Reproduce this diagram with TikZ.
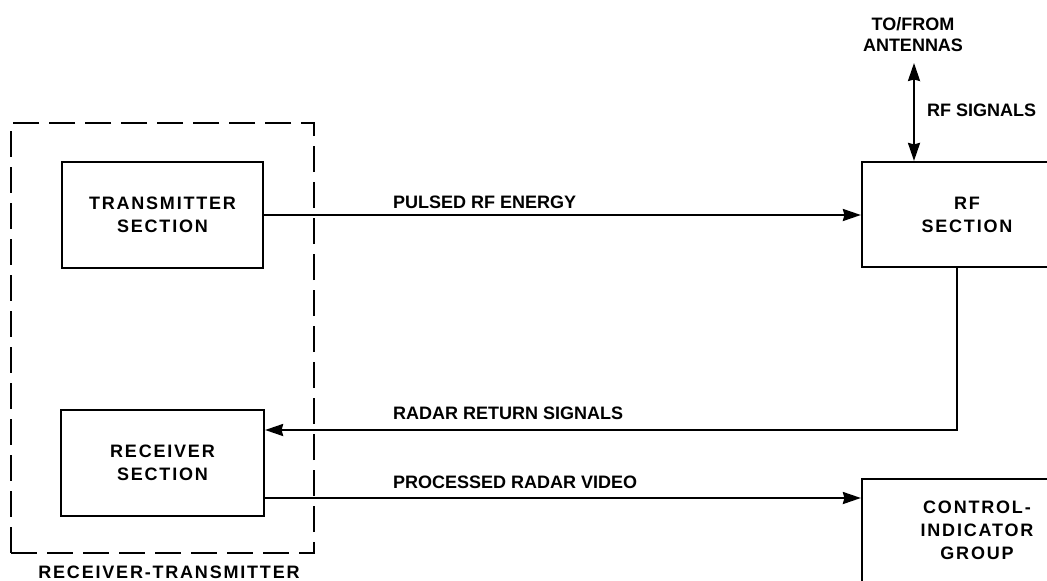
\documentclass[tikz,border=0pt]{standalone}
\usepackage{fontspec}
\setmainfont{Liberation Sans}
\newfontfamily\boxfont[LetterSpace=10]{Liberation Sans}
\usetikzlibrary{arrows.meta}
\begin{document}
\begin{tikzpicture}[x=1pt,y=-1pt,
  blk/.style={draw, line width=2.2pt, inner sep=0pt, align=center,
              font=\boxfont\bfseries\fontsize{18}{23}\selectfont},
  grp/.style={draw, line width=2.2pt, dash pattern=on 26pt off 10pt, inner sep=0pt},
  lbl/.style={font=\bfseries\fontsize{18}{21}\selectfont, inner sep=0pt, align=center},
  tip/.tip={Stealth[length=18pt,width=12pt,inset=1.5pt]},
  conn/.style={line width=2.2pt, -tip},
  bconn/.style={line width=2.2pt, tip-tip},
]
\useasboundingbox (0,0) rectangle (1047,581);
\clip (0,0) rectangle (1047,581);
\fill[white] (0,0) rectangle (1047,581);

% group box
\node[grp, minimum width=303pt, minimum height=430pt] (rt) at (162.5,338) {};
\node[lbl, font=\boxfont\bfseries\fontsize{18}{21}\selectfont] (rtlbl) at (169,572) {RECEIVER-TRANSMITTER};

% blocks
\node[blk, minimum width=201pt, minimum height=106pt] (tx) at (162.5,215) {TRANSMITTER\\SECTION};
\node[blk, minimum width=203pt, minimum height=106pt] (rx) at (162.5,463) {RECEIVER\\SECTION};
\node[blk, minimum width=210pt, minimum height=105pt] (rf) at (967,214.5) {RF\\SECTION};
\node[draw, line width=2.2pt, inner sep=0pt, minimum width=230pt, minimum height=140pt] (ctrl) at (977,549) {};
\node[blk, draw=none] (ctrltxt) at (977,530) {CONTROL-\\INDICATOR\\GROUP};

% antenna
\node[lbl] (ant) at (913,35) {TO/FROM\\ANTENNAS};
\coordinate (antend) at (914,63);
\draw[bconn] (antend) -- (antend |- rf.north);
\node[lbl, anchor=west] (rfsig) at (927,110) {RF SIGNALS};

% connectors
\draw[conn] (tx.east) -- (tx.east -| rf.west);
\node[lbl, anchor=west] (pulsed) at (393,202) {PULSED RF ENERGY};

\draw[conn] ([xshift=-10pt]rf.south) |- ([yshift=33pt]rx.east);
\node[lbl, anchor=west] (ret) at (393,413) {RADAR RETURN SIGNALS};

\draw[conn] ([yshift=-35pt]rx.east) -- ([yshift=-35pt]rx.east -| ctrl.west);
\node[lbl, anchor=west] (proc) at (393,482) {PROCESSED RADAR VIDEO};
\end{tikzpicture}
\end{document}
